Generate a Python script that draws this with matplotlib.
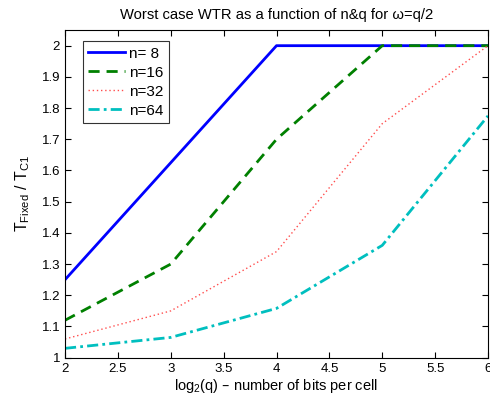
import matplotlib
matplotlib.use("Agg")
import matplotlib.pyplot as plt

plt.rcParams["font.family"] = ["Liberation Sans", "DejaVu Sans"]
plt.rcParams["mathtext.default"] = "regular"

# data
bits = [2, 3, 4, 5, 6]
wtr_n8 = [1.25, 1.625, 2.0, 2.0, 2.0]
wtr_n16 = [1.12, 1.30, 1.70, 2.0, 2.0]
wtr_n32 = [1.06, 1.15, 1.34, 1.75, 2.0]
wtr_n64 = [1.03, 1.065, 1.158, 1.36, 1.775]
labels = ["n= 8", "n=16", "n=32", "n=64"]

fig = plt.figure(figsize=(4.9, 4.01), dpi=100)
ax = fig.add_axes([0.1327, 0.108, 0.8632, 0.817])

ax.plot(bits, wtr_n8, color=(0, 0, 1), lw=2, ls="-", label=labels[0])
ax.plot(bits, wtr_n16, color=(0, 0.5, 0), lw=2, ls=(0, (4, 2.5)), label=labels[1])
ax.plot(bits, wtr_n32, color=(1, 0.3, 0.3), lw=1, ls=(0, (1, 2)), label=labels[2])
ax.plot(bits, wtr_n64, color=(0, 0.75, 0.75), lw=2, ls=(0, (4, 1.5, 1, 1.5)), label=labels[3])

ax.set_xlim(2, 6)
ax.set_ylim(1, 2.05)
ax.set_xticks([2, 2.5, 3, 3.5, 4, 4.5, 5, 5.5, 6])
ax.set_xticklabels(["2", "2.5", "3", "3.5", "4", "4.5", "5", "5.5", "6"])
ax.set_yticks([1, 1.1, 1.2, 1.3, 1.4, 1.5, 1.6, 1.7, 1.8, 1.9, 2])
ax.set_yticklabels(["1", "1.1", "1.2", "1.3", "1.4", "1.5", "1.6", "1.7", "1.8", "1.9", "2"])
ax.tick_params(direction="in", top=True, right=True, labelsize=9.5, length=4, width=0.8)
for s in ax.spines.values():
    s.set_linewidth(0.8)

ax.set_title("Worst case WTR as a function of n&q for \u03c9=q/2", fontsize=10.6, pad=8)
ax.set_xlabel("log$_2$(q) \u2013 number of bits per cell", fontsize=10.5, labelpad=2)
ax.set_ylabel("T$_{Fixed}$ / T$_{C1}$", fontsize=11.5, labelpad=7)

leg = ax.legend(loc="upper left", fontsize=11, frameon=True, fancybox=False,
                edgecolor="black", handlelength=2.4, borderpad=0.35,
                labelspacing=0.33, handletextpad=0.3, borderaxespad=0,
                bbox_to_anchor=(0.042, 0.966))
leg.get_frame().set_linewidth(0.8)

fig.savefig("out.png", dpi=100)
